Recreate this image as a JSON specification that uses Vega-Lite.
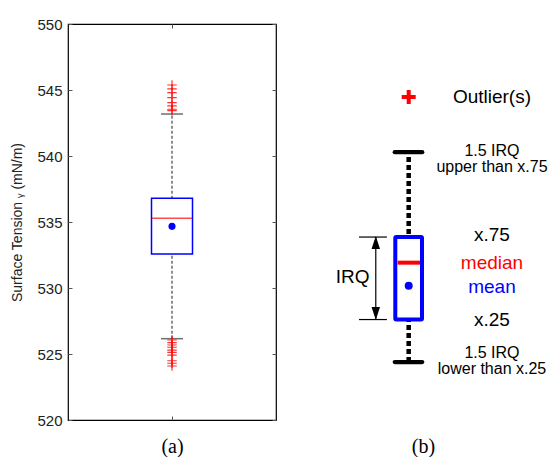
{
  "$schema": "https://vega.github.io/schema/vega-lite/v6.json",
  "background": "white",
  "padding": {"left": 10, "top": 16, "right": 0, "bottom": 0},
  "spacing": 52,
  "config": {
    "font": "Liberation Sans",
    "axis": {"domain": false, "grid": false}
  },
  "datasets": {
    "summary": [{"cat": "a", "q1": 532.58, "median": 535.28, "q3": 536.8, "mean": 534.67, "lower": 526.16, "upper": 543.18}],
    "outliers": [
      {"cat": "a", "v": 545.38}, {"cat": "a", "v": 545.08}, {"cat": "a", "v": 544.8}, {"cat": "a", "v": 544.42},
      {"cat": "a", "v": 544.04}, {"cat": "a", "v": 543.79}, {"cat": "a", "v": 543.54}, {"cat": "a", "v": 543.43},
      {"cat": "a", "v": 526.06}, {"cat": "a", "v": 525.86}, {"cat": "a", "v": 525.68}, {"cat": "a", "v": 525.51},
      {"cat": "a", "v": 525.3}, {"cat": "a", "v": 525.13}, {"cat": "a", "v": 524.92}, {"cat": "a", "v": 524.49},
      {"cat": "a", "v": 524.3}, {"cat": "a", "v": 524.09}
    ],
    "schema": [{"cx": 36.1, "bl": 29.95, "br": 42.2, "ml": 31.0, "mr": 41.3, "cl": 29.7, "cr": 42.3, "q1": 527.61, "q3": 533.86, "median": 531.92, "mean": 530.17, "lower": 524.39, "upper": 540.29, "outlier": 544.47, "ax": 21.0, "tl": 13.3, "tr": 26.1, "headTop": 533.45, "headBottom": 528.07}],
    "bigLabels": [
      {"tx": 74.3, "ty": 544.5, "label": "Outlier(s)"},
      {"tx": 74.3, "ty": 534.02, "label": "x.75"},
      {"tx": 74.3, "ty": 527.58, "label": "x.25"},
      {"tx": 10.4, "ty": 530.86, "label": "IRQ"}
    ],
    "smallLabels": [
      {"tx": 74.3, "ty": 540.4, "label": "1.5 IRQ"},
      {"tx": 74.3, "ty": 539.15, "label": "upper than x.75"},
      {"tx": 74.3, "ty": 525.1, "label": "1.5 IRQ"},
      {"tx": 74.3, "ty": 523.85, "label": "lower than x.25"}
    ],
    "redLabels": [{"tx": 74.3, "ty": 531.92, "label": "median"}],
    "blueLabels": [{"tx": 74.3, "ty": 530.1, "label": "mean"}]
  },
  "hconcat": [
    {
      "width": 208,
      "height": 396,
      "view": {"stroke": "black", "strokeWidth": 1.2},
      "resolve": {"axis": {"x": "independent", "y": "independent"}},
      "layer": [
        {
          "data": {"name": "summary"},
          "mark": {"type": "rule", "color": "#555555", "strokeWidth": 1.3, "strokeDash": [3, 2]},
          "encoding": {
            "x": {"field": "cat", "type": "nominal", "axis": {"orient": "bottom", "labels": false, "tickSize": -4, "tickColor": "#555555", "title": "(a)", "titleFont": "Liberation Serif", "titleFontSize": 20, "titleFontWeight": "normal", "titleColor": "black", "titlePadding": 16}},
            "y": {"field": "lower", "type": "quantitative", "scale": {"domain": [520, 550], "nice": false, "zero": false},
                  "axis": {"orient": "left", "values": [520, 525, 530, 535, 540, 545, 550], "tickSize": -4, "tickColor": "#555555", "labelPadding": 10, "labelFontSize": 15, "labelColor": "#222222", "title": "Surface Tension ᵧ (mN/m)", "titleFontSize": 14, "titleFontWeight": "normal", "titleColor": "#222222", "titlePadding": 12}},
            "y2": {"field": "upper"}
          }
        },
        {
          "data": {"name": "summary"},
          "mark": {"type": "bar", "fill": "white", "stroke": "#0000ff", "strokeWidth": 1.5, "size": 41},
          "encoding": {
            "x": {"field": "cat", "type": "nominal", "axis": null},
            "y": {"field": "q1", "type": "quantitative", "axis": null},
            "y2": {"field": "q3"}
          }
        },
        {
          "data": {"name": "summary"},
          "mark": {"type": "tick", "color": "#333333", "size": 22, "thickness": 1.5},
          "encoding": {
            "x": {"field": "cat", "type": "nominal", "axis": null},
            "y": {"field": "upper", "type": "quantitative", "axis": null}
          }
        },
        {
          "data": {"name": "summary"},
          "mark": {"type": "tick", "color": "#333333", "size": 22, "thickness": 1.5},
          "encoding": {
            "x": {"field": "cat", "type": "nominal", "axis": null},
            "y": {"field": "lower", "type": "quantitative", "axis": null}
          }
        },
        {
          "data": {"name": "summary"},
          "mark": {"type": "tick", "color": "#ff0000", "size": 40, "thickness": 1.5},
          "encoding": {
            "x": {"field": "cat", "type": "nominal", "axis": null},
            "y": {"field": "median", "type": "quantitative", "axis": null}
          }
        },
        {
          "data": {"name": "summary"},
          "mark": {"type": "point", "shape": "circle", "filled": true, "color": "#0000ff", "size": 50, "opacity": 1},
          "encoding": {
            "x": {"field": "cat", "type": "nominal", "axis": null},
            "y": {"field": "mean", "type": "quantitative", "axis": null}
          }
        },
        {
          "data": {"name": "outliers"},
          "mark": {"type": "point", "shape": "M-1,0H1M0,-1V1", "filled": false, "stroke": "#ff0000", "strokeWidth": 1.2, "size": 90, "opacity": 0.8},
          "encoding": {
            "x": {"field": "cat", "type": "nominal", "axis": {"orient": "top", "labels": false, "tickSize": -4, "tickColor": "#555555", "title": null}},
            "y": {"field": "v", "type": "quantitative", "axis": {"orient": "right", "labels": false, "values": [520, 525, 530, 535, 540, 545, 550], "tickSize": -4, "tickColor": "#555555", "title": null}}
          }
        }
      ]
    },
    {
      "width": 218,
      "height": 396,
      "view": {"stroke": null},
      "layer": [
        {
          "data": {"name": "schema"},
          "mark": {"type": "rule", "color": "black", "strokeWidth": 4.5, "strokeDash": [5, 3]},
          "encoding": {
            "x": {"field": "cx", "type": "quantitative", "scale": {"domain": [0, 100], "nice": false, "zero": false},
                  "axis": {"domain": false, "ticks": false, "labels": false, "title": "(b)", "titleX": 93, "titleFont": "Liberation Serif", "titleFontSize": 20, "titleFontWeight": "normal", "titleColor": "black", "titlePadding": 16}},
            "y": {"field": "lower", "type": "quantitative", "scale": {"domain": [520, 550], "nice": false, "zero": false}, "axis": null},
            "y2": {"field": "upper"}
          }
        },
        {
          "data": {"name": "schema"},
          "mark": {"type": "rule", "color": "black", "strokeWidth": 4.3, "strokeCap": "round"},
          "encoding": {
            "x": {"field": "cl", "type": "quantitative"},
            "x2": {"field": "cr"},
            "y": {"field": "upper", "type": "quantitative"}
          }
        },
        {
          "data": {"name": "schema"},
          "mark": {"type": "rule", "color": "black", "strokeWidth": 4.3, "strokeCap": "round"},
          "encoding": {
            "x": {"field": "cl", "type": "quantitative"},
            "x2": {"field": "cr"},
            "y": {"field": "lower", "type": "quantitative"}
          }
        },
        {
          "data": {"name": "schema"},
          "mark": {"type": "rect", "fill": "white", "stroke": "#0000ff", "strokeWidth": 4, "cornerRadius": 1},
          "encoding": {
            "x": {"field": "bl", "type": "quantitative"},
            "x2": {"field": "br"},
            "y": {"field": "q1", "type": "quantitative"},
            "y2": {"field": "q3"}
          }
        },
        {
          "data": {"name": "schema"},
          "mark": {"type": "rule", "color": "#ff0000", "strokeWidth": 4},
          "encoding": {
            "x": {"field": "ml", "type": "quantitative"},
            "x2": {"field": "mr"},
            "y": {"field": "median", "type": "quantitative"}
          }
        },
        {
          "data": {"name": "schema"},
          "mark": {"type": "point", "shape": "circle", "filled": true, "color": "#0000ff", "size": 64, "opacity": 1},
          "encoding": {
            "x": {"field": "cx", "type": "quantitative"},
            "y": {"field": "mean", "type": "quantitative"}
          }
        },
        {
          "data": {"name": "schema"},
          "mark": {"type": "point", "shape": "M-1,0H1M0,-1V1", "filled": false, "stroke": "#ff0000", "strokeWidth": 4, "size": 196, "opacity": 1},
          "encoding": {
            "x": {"field": "cx", "type": "quantitative"},
            "y": {"field": "outlier", "type": "quantitative"}
          }
        },
        {
          "data": {"name": "schema"},
          "mark": {"type": "rule", "color": "black", "strokeWidth": 1.2},
          "encoding": {
            "x": {"field": "ax", "type": "quantitative"},
            "y": {"field": "q1", "type": "quantitative"},
            "y2": {"field": "q3"}
          }
        },
        {
          "data": {"name": "schema"},
          "mark": {"type": "rule", "color": "black", "strokeWidth": 1.2},
          "encoding": {
            "x": {"field": "tl", "type": "quantitative"},
            "x2": {"field": "tr"},
            "y": {"field": "q3", "type": "quantitative"}
          }
        },
        {
          "data": {"name": "schema"},
          "mark": {"type": "rule", "color": "black", "strokeWidth": 1.2},
          "encoding": {
            "x": {"field": "tl", "type": "quantitative"},
            "x2": {"field": "tr"},
            "y": {"field": "q1", "type": "quantitative"}
          }
        },
        {
          "data": {"name": "schema"},
          "mark": {"type": "point", "shape": "M0,-1L-0.65,1L0.65,1Z", "filled": true, "color": "black", "size": 169, "opacity": 1},
          "encoding": {
            "x": {"field": "ax", "type": "quantitative"},
            "y": {"field": "headTop", "type": "quantitative"}
          }
        },
        {
          "data": {"name": "schema"},
          "mark": {"type": "point", "shape": "M0,1L-0.65,-1L0.65,-1Z", "filled": true, "color": "black", "size": 169, "opacity": 1},
          "encoding": {
            "x": {"field": "ax", "type": "quantitative"},
            "y": {"field": "headBottom", "type": "quantitative"}
          }
        },
        {
          "data": {"name": "bigLabels"},
          "mark": {"type": "text", "font": "Liberation Sans", "fontSize": 19, "color": "black", "align": "center", "baseline": "middle"},
          "encoding": {
            "x": {"field": "tx", "type": "quantitative"},
            "y": {"field": "ty", "type": "quantitative"},
            "text": {"field": "label"}
          }
        },
        {
          "data": {"name": "smallLabels"},
          "mark": {"type": "text", "font": "Liberation Sans", "fontSize": 16, "color": "black", "align": "center", "baseline": "middle"},
          "encoding": {
            "x": {"field": "tx", "type": "quantitative"},
            "y": {"field": "ty", "type": "quantitative"},
            "text": {"field": "label"}
          }
        },
        {
          "data": {"name": "redLabels"},
          "mark": {"type": "text", "font": "Liberation Sans", "fontSize": 19, "color": "#ff0000", "align": "center", "baseline": "middle"},
          "encoding": {
            "x": {"field": "tx", "type": "quantitative"},
            "y": {"field": "ty", "type": "quantitative"},
            "text": {"field": "label"}
          }
        },
        {
          "data": {"name": "blueLabels"},
          "mark": {"type": "text", "font": "Liberation Sans", "fontSize": 19, "color": "#0000ff", "align": "center", "baseline": "middle"},
          "encoding": {
            "x": {"field": "tx", "type": "quantitative"},
            "y": {"field": "ty", "type": "quantitative"},
            "text": {"field": "label"}
          }
        }
      ]
    }
  ],
  "resolve": {"scale": {"x": "independent", "y": "independent"}}
}
